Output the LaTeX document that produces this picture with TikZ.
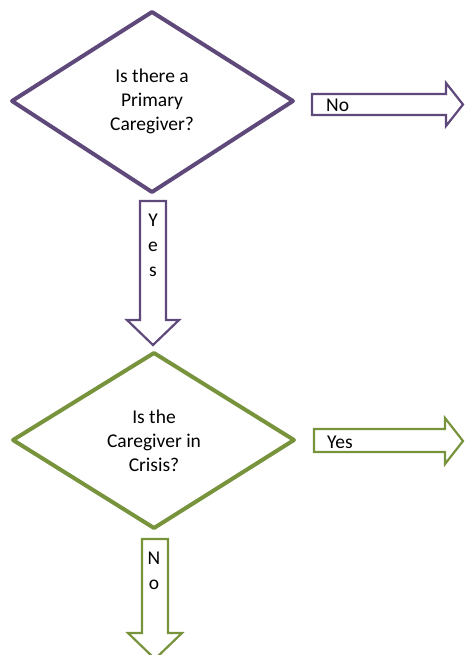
\documentclass[tikz,border=0pt]{standalone}
\usepackage{fontspec}
\setmainfont{Carlito}
\definecolor{cpurple}{RGB}{95,73,122}
\definecolor{cgreen}{RGB}{119,147,60}
\tikzset{
  decision/.style={line width=4pt, line join=round},
  blockarrow/.style={line width=2.2pt, line join=miter, fill=white},
  qtext/.style={align=center, font=\fontsize{19.5}{24}\selectfont, inner sep=0pt},
  atext/.style={anchor=west, font=\fontsize{19.5}{24}\selectfont, inner sep=0pt},
  vtext/.style={align=center, font=\fontsize{19.5}{25}\selectfont, inner sep=0pt}
}
\begin{document}
\begin{tikzpicture}[x=1pt,y=-1pt]
\useasboundingbox (0,0) rectangle (464,655);
% decision 1
\coordinate (d1t) at (152,12);
\coordinate (d1l) at (12,101);
\coordinate (d1r) at (293,101);
\coordinate (d1b) at (152,192);
\draw[decision, draw=cpurple] (d1t) -- (d1r) -- (d1b) -- (d1l) -- cycle;
\node[qtext] (q1) at (152,101) {Is there a\\Primary\\Caregiver?};
% arrow No
\draw[blockarrow, draw=cpurple] (312,94) -- (446,94) -- (446,83) -- (463,104.5) -- (446,126) -- (446,115) -- (312,115) -- cycle;
\node[atext] (no1) at (326,105) {No};
% arrow Yes down
\draw[blockarrow, draw=cpurple] (140,201) -- (166,201) -- (166,320) -- (179,320) -- (153,345) -- (127,320) -- (140,320) -- cycle;
\node[vtext] (yes1) at (153,245) {Y\\e\\s};
% decision 2
\coordinate (d2t) at (154,353);
\coordinate (d2l) at (13,440);
\coordinate (d2r) at (294,440);
\coordinate (d2b) at (154,528);
\draw[decision, draw=cgreen] (d2t) -- (d2r) -- (d2b) -- (d2l) -- cycle;
\node[qtext] (q2) at (154,441) {Is the\\Caregiver in\\Crisis?};
% arrow Yes right
\draw[blockarrow, draw=cgreen] (314,429) -- (445,429) -- (445,418) -- (463,441) -- (445,464) -- (445,452) -- (314,452) -- cycle;
\node[atext] (yes2) at (327,442) {Yes};
% arrow No down
\draw[blockarrow, draw=cgreen] (142,539) -- (168,539) -- (168,633) -- (182,633) -- (155,659) -- (128,633) -- (142,633) -- cycle;
\node[vtext] (no2) at (154,571) {N\\o};
\end{tikzpicture}
\end{document}
